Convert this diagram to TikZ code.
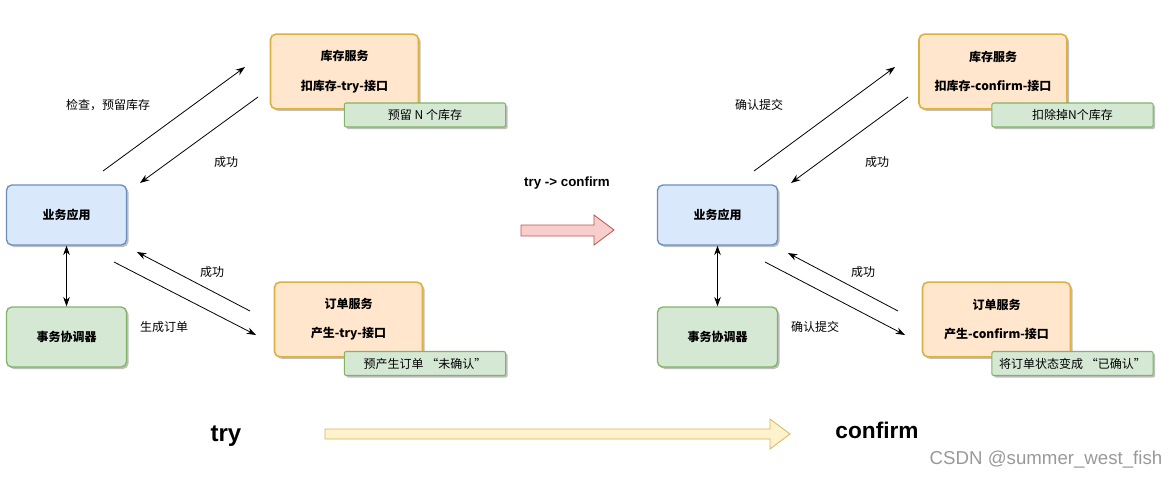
\documentclass[tikz,border=0pt]{standalone}
\usepackage{fontspec}
\setmainfont{Liberation Sans}
\newfontfamily\cjk{Noto Sans CJK SC}
\usetikzlibrary{arrows.meta,shadows}
\definecolor{bluefill}{HTML}{DAE8FC}
\definecolor{bluedraw}{HTML}{6C8EBF}
\definecolor{greenfill}{HTML}{D5E8D4}
\definecolor{greendraw}{HTML}{82B366}
\definecolor{orgfill}{HTML}{FFE6CC}
\definecolor{orgdraw}{HTML}{DDB040}
\definecolor{pinkfill}{HTML}{F8CECC}
\definecolor{pinkdraw}{HTML}{B85450}
\definecolor{yelfill}{HTML}{FFF2CC}
\definecolor{yeldraw}{HTML}{D6B656}
\tikzset{
  shad/.style={drop shadow={shadow xshift=1.5pt,shadow yshift=-1.5pt,opacity=0.25,fill=black}},
  appbox/.style={draw=bluedraw,fill=bluefill,line width=1pt,rounded corners=4pt,shad,
    minimum width=90pt,minimum height=45pt,font=\cjk\bfseries\fontsize{9}{11}\selectfont},
  coordbox/.style={appbox,draw=greendraw,fill=greenfill},
  svcbox/.style={draw=orgdraw,fill=orgfill,line width=1.2pt,rounded corners=4pt,shad,
    minimum width=111pt,minimum height=56pt,align=center,font=\cjk\bfseries\fontsize{9}{22}\selectfont},
  notebox/.style={draw=greendraw,fill=greenfill,line width=0.8pt,rounded corners=1.5pt,shad,
    minimum width=121pt,minimum height=18pt,font=\cjk\fontsize{9}{11}\selectfont},
  lbl/.style={font=\cjk\fontsize{9}{11}\selectfont},
  arr/.style={-{Stealth[length=7pt,width=5pt]},line width=0.6pt},
  darr/.style={{Stealth[length=7pt,width=5pt]}-{Stealth[length=7pt,width=5pt]},line width=0.6pt}
}
\begin{document}
\begin{tikzpicture}[x=0.75pt,y=-0.75pt]
\useasboundingbox (0,0) rectangle (1169,479);
% ---------- left (try) ----------
\node[appbox] (lapp) at (66.5,215) {业务应用};
\node[coordbox] (lco) at (66.5,337) {事务协调器};
\node[svcbox] (lstock) at (344.5,71.5) {库存服务\\扣库存-try-接口};
\node[notebox] (lnote1) at (425,115) {预留 N 个库存};
\node[svcbox] (lorder) at (348.5,319.5) {订单服务\\产生-try-接口};
\node[notebox] (lnote2) at (425,363.5) {预产生订单 “未确认”};
\draw[darr] (lapp.south) -- (lco.north);
\coordinate (la1) at (103,171); \coordinate (la2) at (245,67);
\coordinate (lb1) at (258,97); \coordinate (lb2) at (140,183);
\coordinate (lc1) at (250,311); \coordinate (lc2) at (137,252);
\coordinate (ld1) at (114,262); \coordinate (ld2) at (256,335);
\draw[arr] (la1) -- (la2);
\draw[arr] (lb1) -- (lb2);
\draw[arr] (lc1) -- (lc2);
\draw[arr] (ld1) -- (ld2);
\node[lbl] (llb1) at (108,105) {检查，预留库存};
\node[lbl] (llb2) at (226,162) {成功};
\node[lbl] (llb3) at (212,272) {成功};
\node[lbl] (llb4) at (164,327) {生成订单};
% ---------- right (confirm) ----------
\node[appbox] (rapp) at (717.5,215) {业务应用};
\node[coordbox] (rco) at (717.5,337) {事务协调器};
\node[svcbox] (rstock) at (993,71.5) {库存服务\\扣库存-confirm-接口};
\node[notebox] (rnote1) at (1072.5,115) {扣除掉N个库存};
\node[svcbox] (rorder) at (996.5,319.5) {订单服务\\产生-confirm-接口};
\node[notebox] (rnote2) at (1072.5,363.5) {将订单状态变成 “已确认”};
\draw[darr] (rapp.south) -- (rco.north);
\coordinate (ra1) at (754,171); \coordinate (ra2) at (895,67);
\coordinate (rb1) at (908,97); \coordinate (rb2) at (791,183);
\coordinate (rc1) at (898,311); \coordinate (rc2) at (788,253);
\coordinate (rd1) at (765,262); \coordinate (rd2) at (905,335);
\draw[arr] (ra1) -- (ra2);
\draw[arr] (rb1) -- (rb2);
\draw[arr] (rc1) -- (rc2);
\draw[arr] (rd1) -- (rd2);
\node[lbl] (rlb1) at (759,105) {确认提交};
\node[lbl] (rlb2) at (877,162) {成功};
\node[lbl] (rlb3) at (863,272) {成功};
\node[lbl] (rlb4) at (815,327) {确认提交};
% ---------- middle ----------
\node[font=\bfseries\fontsize{10}{12}\selectfont] (tc) at (567,183) {try -> confirm};
\draw[draw=pinkdraw,fill=pinkfill,line width=0.6pt]
  (521,225) -- (594,225) -- (594,215) -- (614,230) -- (594,245) -- (594,236) -- (521,236) -- cycle;
\draw[draw=yeldraw,fill=yelfill,line width=0.6pt]
  (325,429) -- (770,429) -- (770,419) -- (790,434) -- (770,449) -- (770,439) -- (325,439) -- cycle;
\node[font=\bfseries\fontsize{18}{20}\selectfont] (ttry) at (226,436) {try};
\node[font=\bfseries\fontsize{17}{20}\selectfont] (tconf) at (877,430) {confirm};
\node[text=black!40,font=\fontsize{14}{16}\selectfont] (wm) at (1046,460) {CSDN @summer\_west\_fish};
\end{tikzpicture}
\end{document}
